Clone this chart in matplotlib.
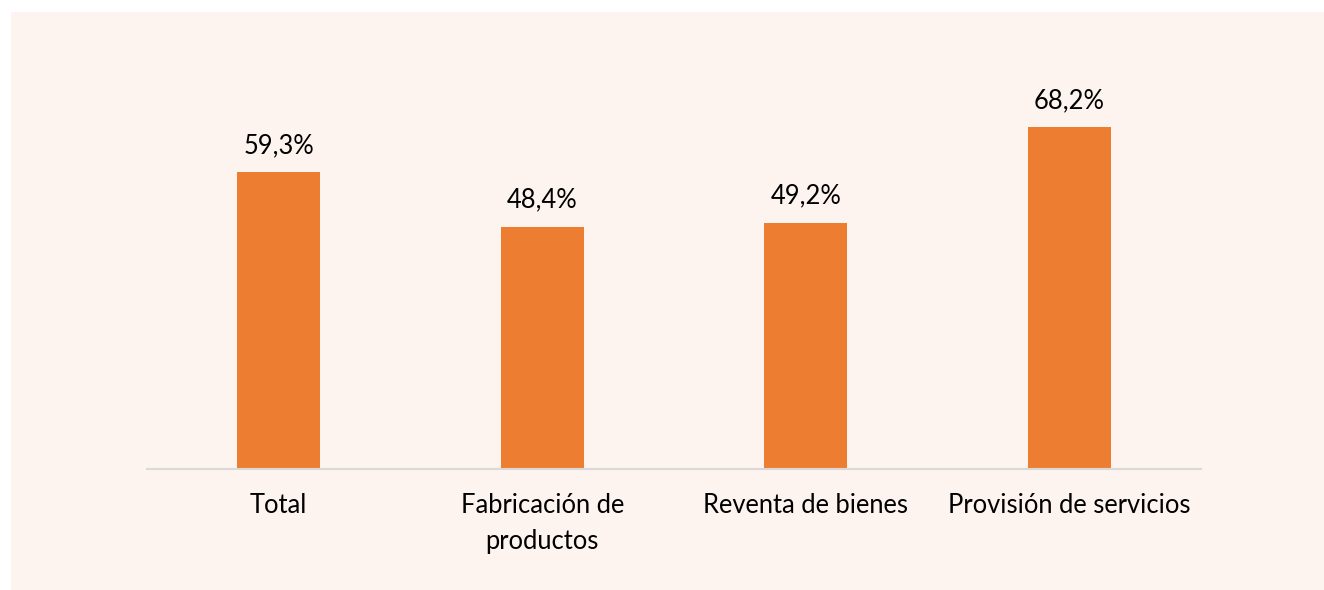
import matplotlib
matplotlib.use("Agg")
import matplotlib.pyplot as plt
from matplotlib.patches import Rectangle

categories = ["Total", "Fabricación de\nproductos", "Reventa de bienes", "Provisión de servicios"]
values = [59.3, 48.4, 49.2, 68.2]
labels = ["59,3%", "48,4%", "49,2%", "68,2%"]

plt.rcParams['font.family'] = ['Lato', 'DejaVu Sans']

fig = plt.figure(figsize=(13.24, 5.90), dpi=100)
fig.patch.set_facecolor("white")
bg = Rectangle((11/1324, 0), 1 - 11/1324, 1 - 12/590, transform=fig.transFigure,
               facecolor="#FDF4EF", edgecolor="none", zorder=-10)
fig.patches.append(bg)

ax = fig.add_axes([147/1324, 121/590, 1054/1324, 400/590])
ax.set_zorder(5)
ax.set_facecolor("none")
x = range(len(categories))
bars = ax.bar(x, values, width=0.315, color="#ED7D31", zorder=2)
ax.set_xlim(-0.5, 3.5)
ax.set_ylim(0, 400/5.008)
for xi, v, lab in zip(x, values, labels):
    ax.annotate(lab, (xi, v), xytext=(0, 10), textcoords="offset points",
                ha="center", va="bottom", fontsize=18.4, color="#000000")
ax.set_xticks(list(x))
ax.set_xticklabels(categories, fontsize=18.4, color="#000000", linespacing=1.55)
ax.tick_params(axis="x", length=0, pad=17)
ax.set_yticks([])
for s in ["top", "right", "left"]:
    ax.spines[s].set_visible(False)
ax.spines["bottom"].set_color("#D9D9D9")
ax.spines["bottom"].set_linewidth(1.5)

fig.savefig("out.png", dpi=100, facecolor=fig.get_facecolor())
